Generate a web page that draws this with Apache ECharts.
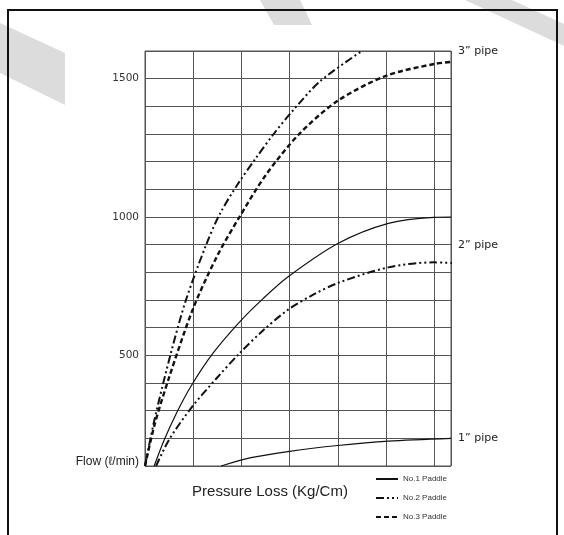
<!DOCTYPE html>
<html>
<head>
<meta charset="utf-8">
<style>
  html, body { margin: 0; padding: 0; background: #fff; }
  #chart { width: 564px; height: 535px; }
</style>
<script src="https://cdn.jsdelivr.net/npm/echarts@6/dist/echarts.min.js"></script>
</head>
<body>
<div id="chart"></div>
<script>
// Flow vs pressure loss for three pipe sizes and paddle types.
const paddleNames = ['No.1 Paddle', 'No.2 Paddle', 'No.3 Paddle'];
const yTickLabels = { 500: '500', 1000: '1000', 1500: '1500' };
const yOriginLabel = 'Flow (ℓ/min)';
const pipeLabels = { 200: '1” pipe', 900: '2” pipe', 1600: '3” pipe' };
const xAxisTitle = 'Pressure Loss (Kg/Cm)';

// 3" pipe, No.2 paddle
const pressure3inNo2 = [0, 0.2, 0.54, 0.85, 1.27, 1.55, 1.93, 2.31, 2.67, 3.07, 3.63, 4.5];
const flow3inNo2 = [100, 270, 510, 700, 900, 1010, 1120, 1215, 1300, 1385, 1490, 1600];
// 3" pipe, No.3 paddle
const pressure3inNo3 = [0, 0.2, 0.5, 1.0, 1.5, 1.96, 2.5, 3.2, 4.0, 5.0, 6.0, 6.48];
const flow3inNo3 = [100, 250, 420, 670, 860, 1000, 1150, 1300, 1420, 1510, 1553, 1562];
// 2" pipe, No.1 paddle
const pressure2inNo1 = [0.19, 0.4, 0.65, 0.96, 1.4, 1.96, 2.45, 2.97, 4.01, 5.05, 5.99, 6.35];
const flow2inNo1 = [100, 195, 290, 390, 505, 620, 705, 784, 905, 977, 999, 1000];
// 2" pipe, No.2 paddle
const pressure2inNo2 = [0.23, 0.5, 0.96, 1.5, 1.96, 2.45, 2.97, 3.5, 4.01, 5.05, 5.99, 6.48];
const flow2inNo2 = [100, 195, 310, 420, 507, 590, 665, 720, 762, 818, 836, 833];
// 1" pipe, No.1 paddle
const pressure1inNo1 = [1.58, 2.2, 3.0, 4.0, 5.05, 6.35];
const flow1inNo1 = [100, 130, 153, 174, 190, 200];

const pairs = (xs, ys) => xs.map((x, i) => [x, ys[i]]);

const styleSolid = { color: '#111', width: 1.2, type: 'solid' };
const styleDashDot = { color: '#111', width: 2, type: [8, 3, 2, 3, 2, 3] };
const styleDashed = { color: '#111', width: 2.4, type: [5, 3] };

function curve(name, xs, ys, lineStyle) {
  return {
    type: 'line', name: name, data: pairs(xs, ys),
    smooth: 0.3, symbol: 'none', showSymbol: false,
    clip: false, lineStyle: lineStyle, itemStyle: { color: '#111' },
    silent: true, animation: false
  };
}

const chart = echarts.init(document.getElementById('chart'), null, { renderer: 'canvas' });
chart.setOption({
  animation: false,
  backgroundColor: '#fff',
  graphic: [
    { type: 'polygon', z: -10, shape: { points: [[0, 23], [65, 53], [65, 105], [0, 73]] }, style: { fill: '#dcdcdc' } },
    { type: 'polygon', z: -10, shape: { points: [[260, 0], [300, 0], [312, 25], [274, 25]] }, style: { fill: '#dcdcdc' } },
    { type: 'polygon', z: -10, shape: { points: [[465, 0], [512, 0], [564, 24], [564, 46]] }, style: { fill: '#dcdcdc' } },
    { type: 'rect', z: 100, shape: { x: 8, y: 10, width: 549, height: 540 }, style: { fill: 'none', stroke: '#111', lineWidth: 2 } }
  ],
  grid: { left: 145, right: 113, top: 51, bottom: 69, show: true, borderColor: '#555', borderWidth: 1, backgroundColor: 'transparent' },
  legend: {
    data: paddleNames, orient: 'vertical', left: 370, top: 470,
    itemWidth: 22, itemHeight: 8, itemGap: 11, selectedMode: false,
    itemStyle: { opacity: 0, borderWidth: 0 },
    textStyle: { fontFamily: 'Liberation Sans', fontSize: 8, color: '#333' }
  },
  xAxis: {
    type: 'value', min: 0, max: 6.35, interval: 1,
    name: xAxisTitle, nameLocation: 'middle', nameGap: 18,
    nameTextStyle: { fontFamily: 'Liberation Sans', fontSize: 15, color: '#222', padding: [0, 56, 0, 0] },
    axisLine: { show: false }, axisTick: { show: false }, axisLabel: { show: false },
    splitLine: { show: true, lineStyle: { color: '#555', width: 1 } }
  },
  yAxis: [
    {
      type: 'value', min: 100, max: 1600, interval: 100, position: 'left',
      axisLine: { show: false }, axisTick: { show: false },
      axisLabel: {
        margin: 6, color: '#333', fontFamily: 'DejaVu Sans', fontSize: 10.5,
        formatter: v => v === 100 ? '{f|' + yOriginLabel + '}' : (yTickLabels[v] || ''),
        rich: { f: { fontFamily: 'Liberation Sans', fontSize: 12, color: '#222', padding: [0, 0, 8, 0] } }
      },
      splitLine: { show: true, lineStyle: { color: '#555', width: 1 } }
    },
    {
      type: 'value', min: 100, max: 1600, interval: 100, position: 'right',
      axisLine: { show: false }, axisTick: { show: false }, splitLine: { show: false },
      axisLabel: {
        margin: 7, color: '#222', fontFamily: 'DejaVu Sans', fontSize: 11,
        formatter: v => pipeLabels[v] || ''
      }
    }
  ],
  series: [
    curve(paddleNames[0], pressure2inNo1, flow2inNo1, styleSolid),
    curve(paddleNames[1], pressure3inNo2, flow3inNo2, styleDashDot),
    curve(paddleNames[2], pressure3inNo3, flow3inNo3, styleDashed),
    curve(paddleNames[1], pressure2inNo2, flow2inNo2, styleDashDot),
    curve(paddleNames[0], pressure1inNo1, flow1inNo1, styleSolid)
  ]
});
</script>
</body>
</html>
